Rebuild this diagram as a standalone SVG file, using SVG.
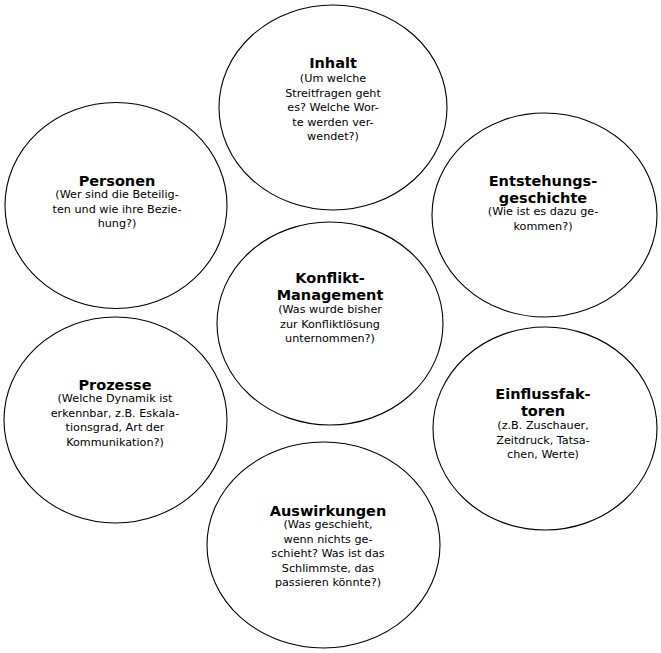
<svg xmlns="http://www.w3.org/2000/svg" width="661" height="653" viewBox="0 0 661 653">
<style>
.c{fill:#fff;stroke:#000;stroke-width:1.1}
.t{font-family:"DejaVu Sans","Verdana",sans-serif;font-weight:bold;font-size:14.5px;fill:#000;text-anchor:middle}
.b{font-family:"DejaVu Sans","Verdana",sans-serif;font-size:11.2px;fill:#000;text-anchor:middle}
</style>
<rect width="661" height="653" fill="#fff"/>
<g id="inhalt">
<ellipse class="c" cx="333" cy="107.5" rx="114" ry="102.5"/>
<text class="t" x="333" y="68">Inhalt</text>
<text class="b" x="333" y="82">(Um welche</text>
<text class="b" x="333" y="96.5">Streitfragen geht</text>
<text class="b" x="333" y="111">es? Welche Wor-</text>
<text class="b" x="333" y="125.5">te werden ver-</text>
<text class="b" x="333" y="140">wendet?)</text>
</g>
<g id="personen">
<ellipse class="c" cx="116" cy="205.5" rx="111" ry="103"/>
<text class="t" x="117" y="186">Personen</text>
<text class="b" x="117" y="198">(Wer sind die Beteilig-</text>
<text class="b" x="117" y="212.5">ten und wie ihre Bezie-</text>
<text class="b" x="117" y="227">hung?)</text>
</g>
<g id="entstehung">
<ellipse class="c" cx="544.5" cy="215" rx="112.5" ry="102"/>
<text class="t" x="543" y="186">Entstehungs-</text>
<text class="t" x="543" y="202.5">geschichte</text>
<text class="b" x="543" y="215">(Wie ist es dazu ge-</text>
<text class="b" x="543" y="229.5">kommen?)</text>
</g>
<g id="konflikt">
<ellipse class="c" cx="330" cy="323.5" rx="113" ry="101.5"/>
<text class="t" x="330" y="283">Konflikt-</text>
<text class="t" x="330" y="299.5">Management</text>
<text class="b" x="330" y="313">(Was wurde bisher</text>
<text class="b" x="330" y="327.5">zur Konfliktlösung</text>
<text class="b" x="330" y="342">unternommen?)</text>
</g>
<g id="prozesse">
<ellipse class="c" cx="115.5" cy="420" rx="111.5" ry="103"/>
<text class="t" x="115" y="390">Prozesse</text>
<text class="b" x="115" y="402">(Welche Dynamik ist</text>
<text class="b" x="115" y="416.5">erkennbar, z.B. Eskala-</text>
<text class="b" x="115" y="431">tionsgrad, Art der</text>
<text class="b" x="115" y="445.5">Kommunikation?)</text>
</g>
<g id="einfluss">
<ellipse class="c" cx="545" cy="428.5" rx="112" ry="101.5"/>
<text class="t" x="543" y="399">Einflussfak-</text>
<text class="t" x="543" y="415.5">toren</text>
<text class="b" x="543" y="429">(z.B. Zuschauer,</text>
<text class="b" x="543" y="443.5">Zeitdruck, Tatsa-</text>
<text class="b" x="543" y="458">chen, Werte)</text>
</g>
<g id="auswirkungen">
<ellipse class="c" cx="323.5" cy="545" rx="116.5" ry="103"/>
<text class="t" x="328" y="516">Auswirkungen</text>
<text class="b" x="328" y="528">(Was geschieht,</text>
<text class="b" x="328" y="542.5">wenn nichts ge-</text>
<text class="b" x="328" y="557">schieht? Was ist das</text>
<text class="b" x="328" y="571.5">Schlimmste, das</text>
<text class="b" x="328" y="586">passieren könnte?)</text>
</g>
</svg>
